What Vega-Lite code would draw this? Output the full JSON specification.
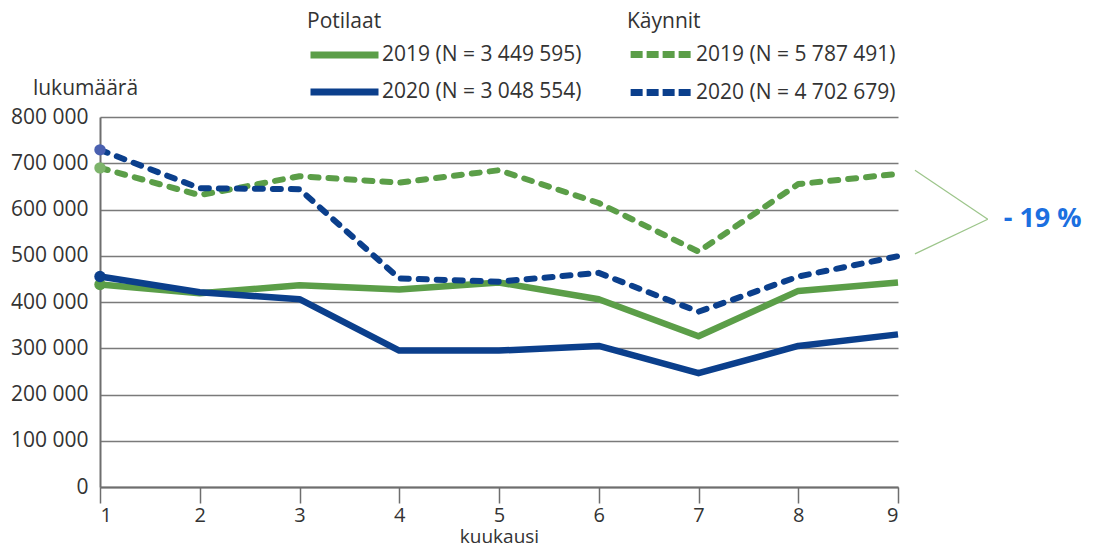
{
  "$schema": "https://vega.github.io/schema/vega-lite/v6.json",
  "autosize": {"type": "none"},
  "padding": {"left": 100, "top": 117, "right": 195, "bottom": 65},
  "width": 798,
  "height": 370,
  "background": "white",
  "datasets": {
    "sarjat": [
      {"kuukausi": 1, "sarja": "Potilaat 2019", "arvo": 438000},
      {"kuukausi": 2, "sarja": "Potilaat 2019", "arvo": 419000},
      {"kuukausi": 3, "sarja": "Potilaat 2019", "arvo": 436000},
      {"kuukausi": 4, "sarja": "Potilaat 2019", "arvo": 427000},
      {"kuukausi": 5, "sarja": "Potilaat 2019", "arvo": 442000},
      {"kuukausi": 6, "sarja": "Potilaat 2019", "arvo": 406000},
      {"kuukausi": 7, "sarja": "Potilaat 2019", "arvo": 326000},
      {"kuukausi": 8, "sarja": "Potilaat 2019", "arvo": 424000},
      {"kuukausi": 9, "sarja": "Potilaat 2019", "arvo": 442000},
      {"kuukausi": 1, "sarja": "Potilaat 2020", "arvo": 455000},
      {"kuukausi": 2, "sarja": "Potilaat 2020", "arvo": 421000},
      {"kuukausi": 3, "sarja": "Potilaat 2020", "arvo": 406000},
      {"kuukausi": 4, "sarja": "Potilaat 2020", "arvo": 295000},
      {"kuukausi": 5, "sarja": "Potilaat 2020", "arvo": 295000},
      {"kuukausi": 6, "sarja": "Potilaat 2020", "arvo": 305000},
      {"kuukausi": 7, "sarja": "Potilaat 2020", "arvo": 246000},
      {"kuukausi": 8, "sarja": "Potilaat 2020", "arvo": 305000},
      {"kuukausi": 9, "sarja": "Potilaat 2020", "arvo": 330000},
      {"kuukausi": 1, "sarja": "Käynnit 2019", "arvo": 690000},
      {"kuukausi": 2, "sarja": "Käynnit 2019", "arvo": 631000},
      {"kuukausi": 3, "sarja": "Käynnit 2019", "arvo": 672000},
      {"kuukausi": 4, "sarja": "Käynnit 2019", "arvo": 658000},
      {"kuukausi": 5, "sarja": "Käynnit 2019", "arvo": 685000},
      {"kuukausi": 6, "sarja": "Käynnit 2019", "arvo": 614000},
      {"kuukausi": 7, "sarja": "Käynnit 2019", "arvo": 509000},
      {"kuukausi": 8, "sarja": "Käynnit 2019", "arvo": 655000},
      {"kuukausi": 9, "sarja": "Käynnit 2019", "arvo": 677000},
      {"kuukausi": 1, "sarja": "Käynnit 2020", "arvo": 729000},
      {"kuukausi": 2, "sarja": "Käynnit 2020", "arvo": 646000},
      {"kuukausi": 3, "sarja": "Käynnit 2020", "arvo": 644000},
      {"kuukausi": 4, "sarja": "Käynnit 2020", "arvo": 451000},
      {"kuukausi": 5, "sarja": "Käynnit 2020", "arvo": 444000},
      {"kuukausi": 6, "sarja": "Käynnit 2020", "arvo": 463000},
      {"kuukausi": 7, "sarja": "Käynnit 2020", "arvo": 379000},
      {"kuukausi": 8, "sarja": "Käynnit 2020", "arvo": 455000},
      {"kuukausi": 9, "sarja": "Käynnit 2020", "arvo": 499000}
    ]
  },
  "encoding": {
    "x": {
      "field": "kuukausi",
      "type": "quantitative",
      "scale": {"domain": [1, 9], "nice": false, "zero": false},
      "axis": {
        "values": [1, 2, 3, 4, 5, 6, 7, 8, 9],
        "format": "d",
        "title": "kuukausi",
        "grid": false,
        "domainColor": "#6e6e6e",
        "domainWidth": 2,
        "tickColor": "#6e6e6e",
        "tickWidth": 1.5,
        "tickSize": 16,
        "labelFont": "Open Sans",
        "labelFontSize": 20,
        "labelColor": "#333333",
        "labelPadding": 2,
        "titleFont": "Open Sans",
        "titleFontSize": 19,
        "titleFontWeight": "normal",
        "titleColor": "#333333",
        "titlePadding": 2
      }
    },
    "y": {
      "field": "arvo",
      "type": "quantitative",
      "scale": {"domain": [0, 800000], "nice": false},
      "axis": {
        "values": [0, 100000, 200000, 300000, 400000, 500000, 600000, 700000, 800000],
        "labelExpr": "replace(format(datum.value, ','), ',', ' ')",
        "grid": true,
        "gridColor": "#7a7a7a",
        "gridWidth": 1.5,
        "ticks": false,
        "domain": true,
        "domainColor": "#6e6e6e",
        "domainWidth": 2,
        "labelFont": "Open Sans",
        "labelFontSize": 21,
        "labelColor": "#333333",
        "labelPadding": 12,
        "title": "lukumäärä",
        "titleFont": "Open Sans",
        "titleFontSize": 21,
        "titleFontWeight": "normal",
        "titleColor": "#333333",
        "titleAngle": 0,
        "titleAlign": "center",
        "titleBaseline": "alphabetic",
        "titleX": -15,
        "titleY": -23
      }
    }
  },
  "layer": [
    {
      "data": {"name": "sarjat"},
      "transform": [{"filter": "indexof(datum.sarja, 'Potilaat') == 0"}],
      "mark": {"type": "line", "strokeWidth": 6.5, "strokeJoin": "round"},
      "encoding": {
        "color": {
          "field": "sarja",
          "type": "nominal",
          "scale": {"domain": ["Potilaat 2019", "Potilaat 2020"], "range": ["#5b9e48", "#0b3f8c"]},
          "legend": {
            "title": "Potilaat",
            "orient": "none",
            "legendX": 207,
            "legendY": -106,
            "padding": 0,
            "direction": "vertical",
            "symbolType": "M-1,0H7",
            "symbolSize": 289,
            "symbolStrokeWidth": 7,
            "labelExpr": "datum.label == 'Potilaat 2019' ? '2019 (N = 3 449 595)' : '2020 (N = 3 048 554)'",
            "labelFont": "Open Sans",
            "labelFontSize": 21,
            "labelColor": "#333333",
            "labelLimit": 0,
            "labelOffset": 51,
            "titleFont": "Open Sans",
            "titleFontSize": 21,
            "titleFontWeight": "normal",
            "titleColor": "#333333",
            "titlePadding": 11,
            "rowPadding": 9
          }
        }
      }
    },
    {
      "data": {"name": "sarjat"},
      "transform": [{"filter": "indexof(datum.sarja, 'Käynnit') == 0"}],
      "mark": {"type": "line", "strokeWidth": 6, "strokeDash": [8, 10], "strokeCap": "round", "strokeJoin": "round"},
      "encoding": {
        "color": {
          "field": "sarja",
          "type": "nominal",
          "scale": {"domain": ["Käynnit 2019", "Käynnit 2020"], "range": ["#5b9e48", "#0b3f8c"]},
          "legend": {
            "title": "Käynnit",
            "orient": "none",
            "legendX": 527,
            "legendY": -106,
            "padding": 0,
            "direction": "vertical",
            "symbolType": "M-1,0H7",
            "symbolSize": 248,
            "symbolStrokeWidth": 7,
            "symbolDash": [12, 4],
            "labelExpr": "datum.label == 'Käynnit 2019' ? '2019 (N = 5 787 491)' : '2020 (N = 4 702 679)'",
            "labelFont": "Open Sans",
            "labelFontSize": 21,
            "labelColor": "#333333",
            "labelLimit": 0,
            "labelOffset": 46,
            "titleFont": "Open Sans",
            "titleFontSize": 21,
            "titleFontWeight": "normal",
            "titleColor": "#333333",
            "titlePadding": 11,
            "rowPadding": 9
          }
        }
      }
    },
    {
      "data": {"name": "sarjat"},
      "transform": [{"filter": "datum.kuukausi == 1"}],
      "mark": {"type": "circle", "size": 130, "opacity": 1},
      "encoding": {
        "color": {
          "field": "sarja",
          "type": "nominal",
          "scale": {
            "domain": ["Potilaat 2019", "Potilaat 2020", "Käynnit 2019", "Käynnit 2020"],
            "range": ["#5b9e48", "#0b3f8c", "#7db46b", "#4a60b0"]
          },
          "legend": null
        }
      }
    },
    {
      "data": {
        "values": [
          {"kuukausi": 9.17, "arvo": 685000, "kuukausi2": 9.9, "arvo2": 579000},
          {"kuukausi": 9.17, "arvo": 504000, "kuukausi2": 9.9, "arvo2": 579000}
        ]
      },
      "mark": {"type": "rule", "color": "#9cc58a", "strokeWidth": 1.2},
      "encoding": {
        "x2": {"field": "kuukausi2"},
        "y2": {"field": "arvo2"}
      }
    },
    {
      "data": {"values": [{"kuukausi": 10.06, "arvo": 579000, "teksti": "- 19 %"}]},
      "mark": {"type": "text", "align": "left", "baseline": "middle", "font": "Open Sans", "fontSize": 27, "fontWeight": "bold", "color": "#1b6fe0"},
      "encoding": {"text": {"field": "teksti"}}
    }
  ],
  "resolve": {"scale": {"color": "independent"}, "legend": {"color": "independent"}},
  "config": {
    "view": {"stroke": null},
    "font": "Open Sans"
  }
}
